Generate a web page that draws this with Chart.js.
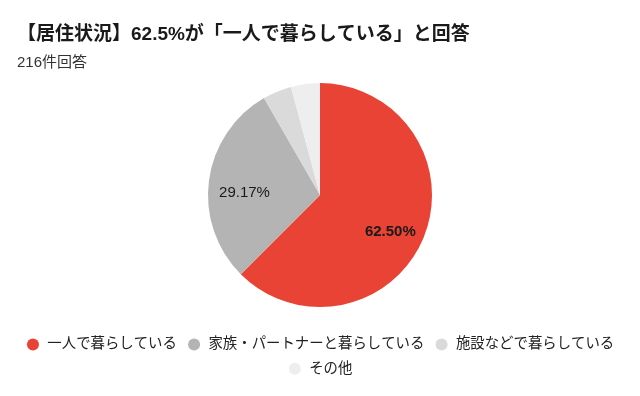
<!DOCTYPE html>
<html>
<head>
<meta charset="utf-8">
<script src="https://cdn.jsdelivr.net/npm/chart.js@4.4.0/dist/chart.umd.min.js"></script>
<style>
  html, body { margin: 0; padding: 0; background: #fff; }
  #wrap { width: 640px; height: 396px; position: relative; }
</style>
</head>
<body>
<div id="wrap"><canvas id="pieChart"></canvas></div>
<script>
const categories = ['一人で暮らしている', '家族・パートナーと暮らしている', '施設などで暮らしている', 'その他'];
const counts = [135, 63, 9, 9];
const percentLabels = ['62.50%', '29.17%', '', ''];
const sliceColors = ['#e94335', '#b4b4b4', '#dadada', '#eeeeee'];

const fontFamily = "'Liberation Sans', 'Noto Sans CJK JP', sans-serif";

// draws the percentages inside the slices
const sliceLabels = {
    id: 'sliceLabels',
    afterDatasetsDraw(chart) {
        const ctx = chart.ctx;
        const meta = chart.getDatasetMeta(0);
        meta.data.forEach((arc, i) => {
            const txt = percentLabels[i];
            if (!txt) return;
            const mid = (arc.startAngle + arc.endAngle) / 2;
            const r = arc.outerRadius * 0.68;
            const x = arc.x + Math.cos(mid) * r;
            const y = arc.y + Math.sin(mid) * r + 8; // text sits a bit below the anchor
            ctx.save();
            ctx.font = (i === 0 ? 'bold ' : '') + '15px ' + fontFamily;
            ctx.fillStyle = '#1a1a1a';
            ctx.textAlign = 'center';
            ctx.textBaseline = 'middle';
            ctx.fillText(txt, x, y);
            ctx.restore();
        });
    }
};

// nudge the title and subtitle a little to the right (legend needs the full width)
const indentTitles = {
    id: 'indentTitles',
    afterLayout(chart) {
        chart.boxes.forEach(b => {
            if (b.options && typeof b.options.text === 'string' && b.position === 'top') {
                b.left += 7;
                b.right += 7;
            }
        });
    }
};

new Chart(document.getElementById('pieChart'), {
    type: 'pie',
    data: {
        labels: categories,
        datasets: [{
            data: counts,
            backgroundColor: sliceColors,
            borderWidth: 0,
            radius: 112
        }]
    },
    options: {
        animation: false,
        responsive: true,
        maintainAspectRatio: false,
        layout: { padding: { top: 0, bottom: 10, left: 10, right: 10 } },
        plugins: {
            title: {
                display: true,
                text: '【居住状況】62.5%が「一人で暮らしている」と回答',
                align: 'start',
                color: '#1a1a1a',
                font: { size: 19, weight: 'bold', family: fontFamily, lineHeight: 1 },
                padding: { top: 25, bottom: 11 }
            },
            subtitle: {
                display: true,
                text: '216件回答',
                align: 'start',
                color: '#333',
                font: { size: 15, family: fontFamily, lineHeight: 1 },
                padding: { top: 0, bottom: -7 }
            },
            legend: {
                position: 'bottom',
                labels: {
                    usePointStyle: true,
                    pointStyle: 'circle',
                    boxWidth: 16,
                    boxHeight: 8.5,
                    padding: 10,
                    color: '#222',
                    font: { size: 14.4, family: fontFamily }
                }
            },
            tooltip: { enabled: false }
        }
    },
    plugins: [sliceLabels, indentTitles]
});
</script>
</body>
</html>
